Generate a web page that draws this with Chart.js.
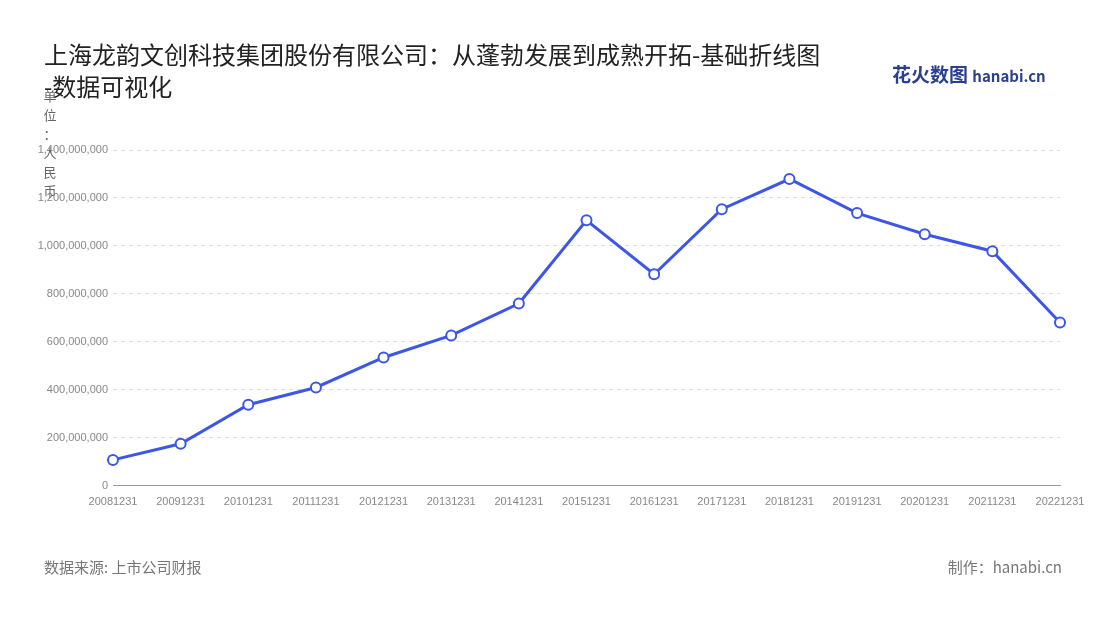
<!DOCTYPE html>
<html><head><meta charset="utf-8">
<script src="https://cdn.jsdelivr.net/npm/chart.js@4/dist/chart.umd.min.js"></script>
<style>
body{margin:0;background:#fff;font-family:"Noto Sans CJK SC","Noto Sans",sans-serif;}
#wrap{position:absolute;left:0;top:0;width:1100px;height:620px;}
#title{position:absolute;left:44px;top:38px;font-size:24px;line-height:32px;color:#222;width:820px;}
#logo{position:absolute;left:892px;top:60px;font-size:19px;font-weight:bold;color:#2a3f8f;}
#logo span{font-size:15px;color:#2a3f8f;}
#src{position:absolute;left:44px;top:556px;font-size:15px;color:#777;}
#made{position:absolute;right:38px;top:556px;font-size:15px;color:#777;}
#unit{position:absolute;left:43px;top:86px;font-size:13px;color:#666;width:14px;line-height:19px;text-align:center;}
#c{position:absolute;left:0;top:0;}
</style></head><body>
<div id="wrap">
<canvas id="c" width="1100" height="620"></canvas>
<div id="title">上海龙韵文创科技集团股份有限公司：从蓬勃发展到成熟开拓-基础折线图<br>-数据可视化</div>
<div id="logo">花火数图 <span>hanabi.cn</span></div>
<div id="unit">单<br>位<br>：<br>人<br>民<br>币</div>
<div id="src">数据来源: 上市公司财报</div>
<div id="made">制作：hanabi.cn</div>
</div>
<script>
const categories=["20081231","20091231","20101231","20111231","20121231","20131231","20141231","20151231","20161231","20171231","20181231","20191231","20201231","20211231","20221231"];
const values=[108000000,175000000,338000000,410000000,535000000,627000000,760000000,1107000000,882000000,1153000000,1279000000,1137000000,1049000000,978000000,681000000];
new Chart(document.getElementById('c'),{
 type:'line',
 data:{labels:categories,datasets:[{data:values,borderColor:'#3d56e8',borderWidth:3,pointRadius:5,pointHoverRadius:5,pointBackgroundColor:'#fff',pointBorderColor:'#3d56e8',pointBorderWidth:2,tension:0}]},
 options:{responsive:false,animation:false,
  layout:{padding:{left:0,right:40,top:150,bottom:109}},
  plugins:{legend:{display:false},tooltip:{enabled:false}},
  scales:{
   x:{offset:false,grid:{display:false},border:{color:'#999'},ticks:{color:'#888',font:{size:11},maxRotation:0,autoSkip:false,padding:2}},
   y:{min:0,max:1400000000,afterFit(s){s.width=113;},ticks:{stepSize:200000000,color:'#888',font:{size:11},padding:5,callback:v=>v.toLocaleString('en-US')},
      grid:{color:'#ddd',drawTicks:false},border:{display:false,dash:[4,4]}}
  }}
});
</script>
</body></html>
